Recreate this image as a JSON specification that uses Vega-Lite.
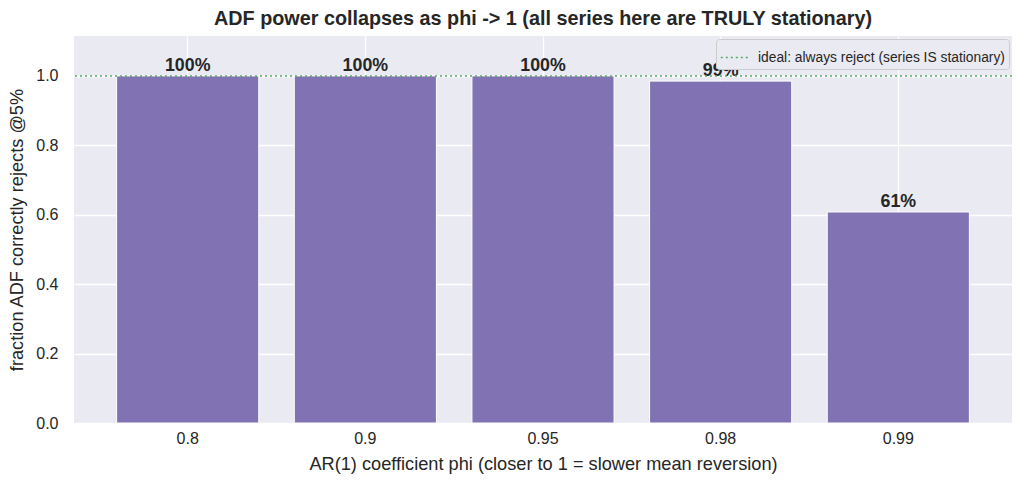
{
  "$schema": "https://vega.github.io/schema/vega-lite/v6.json",
  "autosize": {"type": "none"},
  "padding": {"left": 74, "top": 36, "right": 15, "bottom": 65},
  "width": 938,
  "height": 387,
  "background": "white",
  "config": {
    "font": "Liberation Sans",
    "view": {"fill": "#EAEAF2", "stroke": null},
    "axis": {"domain": false, "ticks": false, "gridColor": "white", "gridWidth": 1.3, "labelColor": "#262626", "titleColor": "#262626", "labelFontSize": 16, "titleFontSize": 18.2, "titleFontWeight": "normal"}
  },
  "title": {"text": "ADF power collapses as phi -> 1 (all series here are TRULY stationary)", "fontSize": 19.8, "fontWeight": "bold", "color": "#262626", "anchor": "middle", "offset": 7},
  "data": {"values": [
    {"phi": "0.8", "frac": 1.0, "label": "100%"},
    {"phi": "0.9", "frac": 1.0, "label": "100%"},
    {"phi": "0.95", "frac": 1.0, "label": "100%"},
    {"phi": "0.98", "frac": 0.985, "label": "99%"},
    {"phi": "0.99", "frac": 0.608, "label": "61%"}
  ]},
  "layer": [
    {
      "mark": {"type": "bar", "color": "#8172B3", "stroke": "white", "strokeWidth": 1},
      "encoding": {
        "x": {"field": "phi", "type": "nominal", "sort": null,
              "scale": {"paddingInner": 0.2, "paddingOuter": 0.24},
              "axis": {"labelAngle": 0, "grid": true, "bandPosition": 0.5, "labelPadding": 7, "titlePadding": 9,
                       "title": "AR(1) coefficient phi (closer to 1 = slower mean reversion)"}},
        "y": {"field": "frac", "type": "quantitative",
              "scale": {"domain": [0, 1.115], "nice": false},
              "axis": {"values": [0, 0.2, 0.4, 0.6, 0.8, 1.0], "format": ".1f", "labelPadding": 16, "titlePadding": 9,
                       "title": "fraction ADF correctly rejects @5%"}}
      }
    },
    {
      "mark": {"type": "text", "fontWeight": "bold", "fontSize": 17.8, "color": "#262626", "baseline": "bottom", "dy": -1},
      "encoding": {
        "x": {"field": "phi", "type": "nominal", "sort": null},
        "y": {"field": "frac", "type": "quantitative"},
        "text": {"field": "label"}
      }
    },
    {
      "data": {"values": [{"ideal": 1.0, "name": "ideal: always reject (series IS stationary)"}]},
      "mark": {"type": "rule", "strokeDash": [2, 3], "strokeWidth": 1.5},
      "encoding": {
        "y": {"field": "ideal", "type": "quantitative"},
        "stroke": {"field": "name", "type": "nominal",
                   "scale": {"range": ["#55A868"]},
                   "legend": {"title": null, "orient": "top-right", "offset": 3, "fillColor": "#EAEAF2", "strokeColor": "#CCCCCC", "padding": 4, "cornerRadius": 3, "labelLimit": 400, "labelOffset": 9,
                              "symbolType": "stroke", "symbolSize": 750, "symbolStrokeWidth": 1.5, "symbolDash": [2, 3], "labelFontSize": 13.8, "labelColor": "#262626"}}
      }
    }
  ]
}
